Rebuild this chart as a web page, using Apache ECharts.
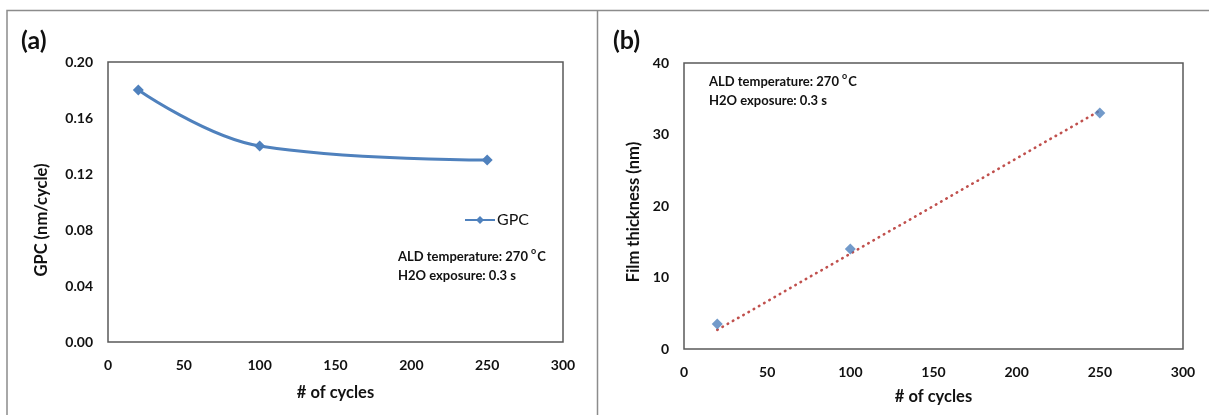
<!DOCTYPE html>
<html>
<head>
<meta charset="utf-8">
<style>
  html, body { margin: 0; padding: 0; background: #fff; }
  #chart { width: 1209px; height: 415px; }
</style>
<script src="https://cdn.jsdelivr.net/npm/echarts@6/dist/echarts.min.js"></script>
</head>
<body>
<div id="chart"></div>
<script>
// Number of ALD cycles
const cycles = [20, 100, 250];
// Growth per cycle (nm/cycle)
const gpcValues = [0.18, 0.14, 0.13];
// Film thickness (nm)
const thicknessValues = [3.5, 14, 33];
// Axis tick values
const gpcTicks = [0, 0.04, 0.08, 0.12, 0.16, 0.20];
const thicknessTicks = [0, 10, 20, 30, 40];
const cycleTicks = [0, 50, 100, 150, 200, 250, 300];

// Linear trendline through the origin (least squares)
let sxy = 0, sxx = 0;
cycles.forEach((c, i) => { sxy += c * thicknessValues[i]; sxx += c * c; });
const slope = sxy / sxx;
const trendline = [cycles[0], cycles[cycles.length - 1]].map(c => [c, slope * c]);

const blue = '#4F81BD';
const red = '#C0504D';
const font = 'Lato, "Open Sans", sans-serif';
const tickLabel = { fontFamily: font, fontWeight: 'bold', fontSize: 14, color: '#111' };
const axisTitle = { fontFamily: font, fontWeight: 'bold', fontSize: 16.5, color: '#111' };

function xAxis(gridIndex, nameGap) {
  return {
    type: 'value', gridIndex, min: cycleTicks[0], max: cycleTicks[cycleTicks.length - 1],
    interval: cycleTicks[1] - cycleTicks[0],
    name: '# of cycles', nameLocation: 'middle', nameGap, nameTextStyle: axisTitle,
    axisLine: { show: false }, axisTick: { show: false }, splitLine: { show: false },
    axisLabel: Object.assign({ margin: 16 }, tickLabel)
  };
}

const annotationStyle = {
  fontFamily: font, fontSize: 13, fontWeight: 'bold', fill: '#111', lineHeight: 19,
  rich: { sup: { fontSize: 9, fontWeight: 'bold', verticalAlign: 'top', padding: [0, 1, 6, 0], fontFamily: font } }
};

const option = {
  animation: false,
  backgroundColor: '#fff',
  grid: [
    { left: 108, top: 62, width: 455, height: 280, show: true, borderColor: '#595959', borderWidth: 1.5 },
    { left: 684, top: 63, width: 499, height: 286, show: true, borderColor: '#595959', borderWidth: 1.5 }
  ],
  xAxis: [xAxis(0, 42), xAxis(1, 39)],
  yAxis: [
    {
      type: 'value', gridIndex: 0, min: gpcTicks[0], max: gpcTicks[gpcTicks.length - 1],
      interval: gpcTicks[1] - gpcTicks[0],
      name: 'GPC (nm/cycle)', nameLocation: 'middle', nameGap: 58,
      nameTextStyle: Object.assign({ padding: [0, 36, 0, 0] }, axisTitle),
      axisLine: { show: false }, axisTick: { show: false }, splitLine: { show: false },
      axisLabel: Object.assign({ margin: 15, formatter: v => v.toFixed(2) }, tickLabel)
    },
    {
      type: 'value', gridIndex: 1, min: thicknessTicks[0], max: thicknessTicks[thicknessTicks.length - 1],
      interval: thicknessTicks[1] - thicknessTicks[0],
      name: 'Film thickness (nm)', nameLocation: 'middle', nameGap: 42,
      nameTextStyle: Object.assign({ padding: [0, 12, 0, 0] }, axisTitle),
      axisLine: { show: false }, axisTick: { show: false }, splitLine: { show: false },
      axisLabel: Object.assign({ margin: 15 }, tickLabel)
    }
  ],
  legend: {
    data: ['GPC'], left: 459, top: 207, itemWidth: 30, itemHeight: 10, itemGap: 2,
    textStyle: { fontFamily: font, fontSize: 16, color: '#111', padding: [0, 0, 0, -3] }
  },
  series: [
    {
      name: 'GPC', type: 'line', xAxisIndex: 0, yAxisIndex: 0,
      data: cycles.map((c, i) => [c, gpcValues[i]]),
      smooth: 0.4, symbol: 'diamond', symbolSize: 11,
      lineStyle: { color: blue, width: 3 }, itemStyle: { color: blue }
    },
    {
      name: 'Trend', type: 'line', xAxisIndex: 1, yAxisIndex: 1,
      data: trendline, symbol: 'none',
      lineStyle: { color: red, width: 2.6, type: [0.5, 5.5], cap: 'round' }
    },
    {
      name: 'Thickness', type: 'scatter', xAxisIndex: 1, yAxisIndex: 1,
      data: cycles.map((c, i) => [c, thicknessValues[i]]),
      symbol: 'diamond', symbolSize: 11, itemStyle: { color: blue }, z: 5
    }
  ],
  graphic: [
    // panel frames
    { type: 'polyline', shape: { points: [[7, 415], [7, 10.5], [1209, 10.5]] }, style: { stroke: '#8c8c8c', lineWidth: 1.5, fill: null } },
    { type: 'line', shape: { x1: 597.5, y1: 10, x2: 597.5, y2: 415 }, style: { stroke: '#8c8c8c', lineWidth: 1.5 } },
    // panel labels
    { type: 'text', left: 21, top: 28, style: { text: '(a)', fontFamily: font, fontSize: 25, fontWeight: 'bold', fill: '#111' } },
    { type: 'text', left: 613, top: 28, style: { text: '(b)', fontFamily: font, fontSize: 25, fontWeight: 'bold', fill: '#111' } },
    // process conditions
    { type: 'text', left: 398, top: 247, style: Object.assign({ text: 'ALD temperature: 270 {sup|o}C\nH2O exposure: 0.3 s' }, annotationStyle) },
    { type: 'text', left: 709, top: 72, style: Object.assign({ text: 'ALD temperature: 270 {sup|o}C\nH2O exposure: 0.3 s' }, annotationStyle) }
  ]
};

echarts.init(document.getElementById('chart'), null, { renderer: 'canvas' }).setOption(option);
</script>
</body>
</html>
